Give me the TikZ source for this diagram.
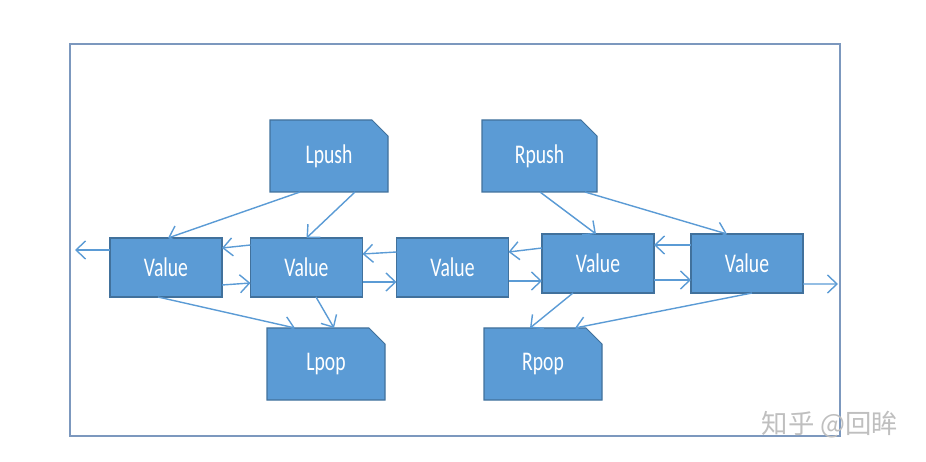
\documentclass[tikz,border=0pt]{standalone}
\usepackage{fontspec}
\usepackage{graphicx}
\setmainfont{Carlito}
\newfontfamily\cjk{Noto Sans CJK SC}
\usetikzlibrary{arrows.meta,shapes.misc}
\definecolor{boxblue}{HTML}{5B9BD5}
\definecolor{edgeblue}{HTML}{41719C}
\definecolor{framecol}{HTML}{7C98BE}
\newcommand{\lbl}[1]{\raisebox{-0.5ex}{\scalebox{0.86}[1.18]{#1}}}

\begin{document}
\begin{tikzpicture}[>={Straight Barb[length=1.9mm,width=3.6mm]},
  every node/.style={font=\fontsize{13}{15}\selectfont,text=white},
  valbox/.style={draw=edgeblue,fill=boxblue,line width=0.6pt,minimum width=2.24cm,minimum height=1.18cm,inner sep=0pt,outer sep=0pt},
  opbox/.style={chamfered rectangle,chamfered rectangle corners=north east,chamfered rectangle xsep=0.16cm,chamfered rectangle ysep=0.16cm,
    draw=edgeblue,fill=boxblue,line width=0.6pt,minimum width=2.36cm,minimum height=1.44cm,inner sep=0pt,outer sep=0pt},
  link/.style={->,draw=boxblue,line width=0.8pt}]
\useasboundingbox (0,0) rectangle (18.52,-9.24);
\draw[framecol,line width=1.1pt] (1.4,-0.88) rectangle (16.8,-8.72);
\node[opbox] (lpush) at (6.58,-3.12) {\lbl{Lpush}};
\node[opbox,minimum width=2.30cm] (rpush) at (10.79,-3.12) {\lbl{Rpush}};
\node[opbox] (lpop) at (6.52,-7.28) {\lbl{Lpop}};
\node[opbox] (rpop) at (10.86,-7.28) {\lbl{Rpop}};
\node[valbox] (v1) at (3.32,-5.35) {\lbl{Value}};
\node[valbox] (v2) at (6.13,-5.35) {\lbl{Value}};
\node[valbox] (v3) at (9.05,-5.35) {\lbl{Value}};
\node[valbox] (v4) at (11.96,-5.27) {\lbl{Value}};
\node[valbox] (v5) at (14.94,-5.27) {\lbl{Value}};
\coordinate (lout) at (1.5,-5.0);
\coordinate (rout) at (16.76,-5.68);
% list links
\draw[link] ([yshift=0.35cm]v1.west) -- (lout);
\draw[link] ([yshift=0.45cm]v2.west) -- ([yshift=0.39cm]v1.east);
\draw[link] ([yshift=-0.35cm]v1.east) -- ([yshift=-0.31cm]v2.west);
\draw[link] ([yshift=0.31cm]v3.west) -- ([yshift=0.27cm]v2.east);
\draw[link] ([yshift=-0.29cm]v2.east) -- ([yshift=-0.29cm]v3.west);
\draw[link] ([yshift=0.31cm]v4.west) -- ([yshift=0.31cm]v3.east);
\draw[link] ([yshift=-0.27cm]v3.east) -- ([yshift=-0.35cm]v4.west);
\draw[link] ([yshift=0.37cm]v5.west) -- ([yshift=0.37cm]v4.east);
\draw[link] ([yshift=-0.33cm]v4.east) -- ([yshift=-0.33cm]v5.west);
\draw[link] ([yshift=-0.41cm]v5.east) -- (rout);
% push and pop
\draw[link] ([xshift=-0.58cm]lpush.south) -- ([xshift=0.04cm]v1.north);
\draw[link] ([xshift=0.52cm]lpush.south) -- (v2.north);
\draw[link] ([xshift=0.01cm]rpush.south) -- ([xshift=-0.04cm]v4.north);
\draw[link] ([xshift=0.91cm]rpush.south) -- ([xshift=-0.4cm]v5.north);
\draw[link] ([xshift=-0.16cm]v1.south) -- ([xshift=-0.62cm]lpop.north);
\draw[link] ([xshift=0.19cm]v2.south) -- ([xshift=0.16cm]lpop.north);
\draw[link] ([xshift=-0.5cm]v4.south) -- ([xshift=-0.26cm]rpop.north);
\draw[link] ([xshift=0.1cm]v5.south) -- ([xshift=0.64cm]rpop.north);
\node[text=black!25,font=\cjk\fontsize{15}{17}\selectfont] (mark) at (16.6,-8.5) {知乎 @回眸};
\end{tikzpicture}
\end{document}
